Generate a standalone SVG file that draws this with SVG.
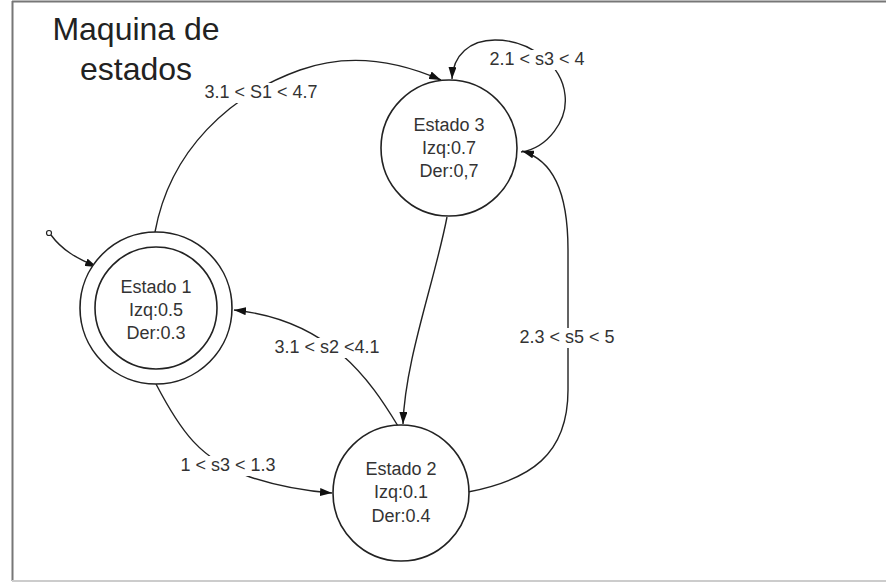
<svg xmlns="http://www.w3.org/2000/svg" width="886" height="583" viewBox="0 0 886 583">
  <defs>
    <marker id="arrow" viewBox="0 0 12 8" refX="12" refY="4" markerWidth="12" markerHeight="8" markerUnits="userSpaceOnUse" orient="auto">
      <path d="M0,0 L12,4 L0,8 Z" fill="#111"/>
    </marker>
    <style>
      .edge { fill: none; stroke: #222; stroke-width: 1.4; marker-end: url(#arrow); }
      .state { fill: #fff; stroke: #222; stroke-width: 1.6; }
      .ntext { font-family: "Liberation Sans", Arial, sans-serif; font-size: 18px; fill: #333; text-anchor: middle; }
      .ltext { font-family: "Liberation Sans", Arial, sans-serif; font-size: 18px; fill: #333; text-anchor: middle; }
      .lbg { fill: #fff; }
      .title { font-family: "Liberation Sans", Arial, sans-serif; font-size: 32px; fill: #222; text-anchor: middle; }
    </style>
  </defs>

  <rect width="886" height="583" fill="#fff"/>
  <!-- page frame -->
  <line x1="12" y1="1.5" x2="886" y2="1.5" stroke="#777" stroke-width="2"/>
  <line x1="12.5" y1="1" x2="12.5" y2="581" stroke="#777" stroke-width="2"/>
  <line x1="12" y1="581" x2="886" y2="581" stroke="#ccc" stroke-width="2"/>

  <g id="title">
    <text class="title" x="136" y="40">Maquina de</text>
    <text class="title" x="136" y="80">estados</text>
  </g>

  <g id="connectors">
    <!-- initial transition -->
    <circle cx="49" cy="233" r="2.5" fill="#fff" stroke="#222" stroke-width="1.2"/>
    <path class="edge" d="M51,235 C62,250 76,258 97,267"/>
    <!-- Estado 1 -> Estado 3 -->
    <path class="edge" d="M155,232 C170,150 230,95 300,70 C350,52 400,62 441,80"/>
    <!-- Estado 3 self loop -->
    <path class="edge" d="M521,152 C548,148 568,120 565,95 C562,65 530,40 495,40 C470,40 453,55 452,79"/>
    <!-- Estado 2 -> Estado 3 -->
    <path class="edge" d="M468,492 C530,480 568,455 568,390 L568,250 C568,190 552,160 522,151"/>
    <!-- Estado 3 -> Estado 2 -->
    <path class="edge" d="M447,217 C435,280 405,360 403,424"/>
    <!-- Estado 2 -> Estado 1 -->
    <path class="edge" d="M398,426 C370,380 330,320 234,310"/>
    <!-- Estado 1 -> Estado 2 -->
    <path class="edge" d="M156,384 C180,430 200,460 250,477 C280,487 305,491 332,493"/>

    <!-- transition labels -->
    <rect class="lbg" x="203" y="83" width="117" height="20"/>
    <text class="ltext" x="261" y="98">3.1 &lt; S1 &lt; 4.7</text>
    <rect class="lbg" x="485" y="50" width="105" height="20"/>
    <text class="ltext" x="537" y="65">2.1 &lt; s3 &lt; 4</text>
    <rect class="lbg" x="270" y="338" width="114" height="20"/>
    <text class="ltext" x="327" y="353">3.1 &lt; s2 &lt;4.1</text>
    <rect class="lbg" x="515" y="328" width="105" height="20"/>
    <text class="ltext" x="567" y="343">2.3 &lt; s5 &lt; 5</text>
    <rect class="lbg" x="176" y="456" width="104" height="20"/>
    <text class="ltext" x="228" y="471">1 &lt; s3 &lt; 1.3</text>
  </g>

  <g id="estado1">
    <circle class="state" cx="156" cy="308" r="76"/>
    <circle class="state" cx="156" cy="308" r="61"/>
    <text class="ntext" x="156" y="293">Estado 1</text>
    <text class="ntext" x="156" y="316">Izq:0.5</text>
    <text class="ntext" x="156" y="339">Der:0.3</text>
  </g>

  <g id="estado3">
    <circle class="state" cx="449" cy="148" r="68"/>
    <text class="ntext" x="449" y="131">Estado 3</text>
    <text class="ntext" x="449" y="154">Izq:0.7</text>
    <text class="ntext" x="449" y="177">Der:0,7</text>
  </g>

  <g id="estado2">
    <circle class="state" cx="401" cy="493" r="68"/>
    <text class="ntext" x="401" y="475">Estado 2</text>
    <text class="ntext" x="401" y="498">Izq:0.1</text>
    <text class="ntext" x="401" y="522">Der:0.4</text>
  </g>
</svg>
